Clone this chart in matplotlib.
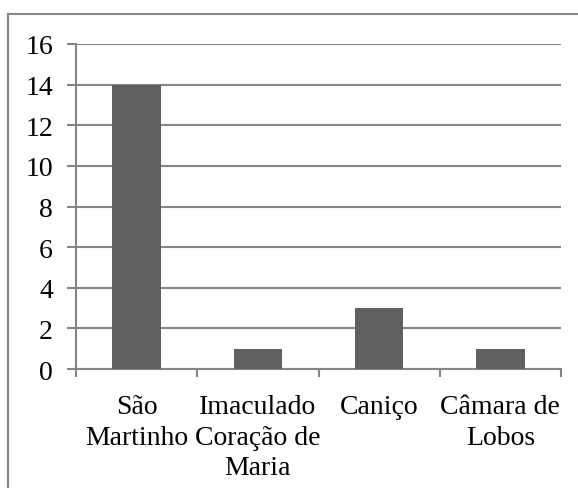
import matplotlib
matplotlib.use('Agg')
import matplotlib.pyplot as plt
from matplotlib.lines import Line2D
import numpy as np

categories = ['São\nMartinho', 'Imaculado\nCoração de\nMaria', 'Caniço', 'Câmara de\nLobos']
values = [14, 1, 3, 1]
yticks = [0, 2, 4, 6, 8, 10, 12, 14, 16]

plt.rcParams['font.family'] = ['Liberation Serif', 'DejaVu Serif']

fig = plt.figure(figsize=(5.78, 4.89), dpi=100)
ax = fig.add_axes([76 / 578, 1 - 370 / 489, 485 / 578, 325 / 489])

x = np.arange(len(categories))
ax.bar(x, values, width=0.4, color='#606060', zorder=3)

ax.set_xlim(-0.5, len(categories) - 0.5)
ax.set_ylim(0, 16)
ax.set_yticks(yticks)
ax.set_yticklabels([str(v) for v in yticks], fontsize=20)
ax.yaxis.grid(True, color='#868686', linewidth=1.5, zorder=0)

ax.set_xticks(x)
ax.set_xticklabels(categories, fontsize=20, linespacing=1.3)
ax.set_xticks(np.arange(len(categories) + 1) - 0.5, minor=True)
ax.tick_params(axis='x', which='major', length=0, pad=18)
ax.tick_params(axis='x', which='minor', length=6, width=1.5, color='#868686', direction='out')
ax.tick_params(axis='y', length=6.5, width=1.5, color='#868686', pad=10)

for side in ['top', 'right']:
    ax.spines[side].set_visible(False)
for side in ['left', 'bottom']:
    ax.spines[side].set_color('#868686')
    ax.spines[side].set_linewidth(1.5)

# outer chart border (runs off right and bottom)
fig.add_artist(Line2D([8 / 578, 1.0], [1 - 15 / 489, 1 - 15 / 489], color='#888888', linewidth=1.5, transform=fig.transFigure))
fig.add_artist(Line2D([8 / 578, 8 / 578], [1 - 15 / 489, 0.0], color='#888888', linewidth=1.5, transform=fig.transFigure))

fig.savefig('out.png', dpi=100)
